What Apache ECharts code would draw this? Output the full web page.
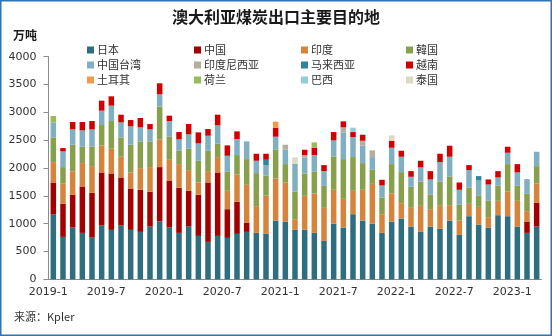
<!DOCTYPE html>
<html>
<head>
<meta charset="utf-8">
<script src="https://cdn.jsdelivr.net/npm/echarts@6/dist/echarts.min.js"></script>
<style>
html,body{margin:0;padding:0;background:#fff;}
#c{width:552px;height:336px;}
</style>
</head>
<body>
<div id="c"></div>
<script>
const categories = [
 '2019-1','2019-2','2019-3','2019-4','2019-5','2019-6','2019-7','2019-8','2019-9','2019-10','2019-11','2019-12',
 '2020-1','2020-2','2020-3','2020-4','2020-5','2020-6','2020-7','2020-8','2020-9','2020-10','2020-11','2020-12',
 '2021-1','2021-2','2021-3','2021-4','2021-5','2021-6','2021-7','2021-8','2021-9','2021-10','2021-11','2021-12',
 '2022-1','2022-2','2022-3','2022-4','2022-5','2022-6','2022-7','2022-8','2022-9','2022-10','2022-11','2022-12',
 '2023-1','2023-2','2023-3'
];
const japan = [1170,762,930,834,750,966,888,966,888,852,948,1038,930,834,948,780,672,780,744,816,852,834,816,1056,1038,894,894,834,690,1002,930,1170,1056,1002,834,1038,1092,948,852,948,906,1056,798,1134,984,930,1152,1134,948,834,948];
const china = [570,594,588,834,804,954,1014,864,744,756,624,978,846,810,642,738,1068,1140,516,576,168,0,0,0,0,0,0,0,0,0,0,0,0,0,0,0,0,0,0,0,0,0,0,0,0,0,0,0,0,204,426];
const india = [366,366,420,420,480,486,444,372,288,390,444,498,372,426,372,222,204,276,330,492,678,480,690,756,702,186,606,708,594,606,516,420,552,726,336,504,276,336,468,312,414,276,258,222,318,186,258,444,462,186,348];
const korea = [444,294,480,294,348,366,498,348,498,480,462,588,420,240,384,390,366,240,348,348,462,594,360,516,330,498,402,396,396,600,714,606,480,240,300,528,558,378,438,258,438,516,282,294,198,294,270,492,270,312,312];
const taiwan = [270,282,276,294,312,258,276,270,330,252,216,222,276,204,258,312,270,330,282,288,318,222,186,234,258,498,282,294,264,288,480,360,318,228,216,294,276,180,252,276,348,354,270,312,276,294,150,204,240,264,258];
const indonesia = [0,0,0,0,0,0,0,0,0,0,0,0,0,0,0,0,0,0,0,0,0,0,0,0,90,0,48,0,0,0,90,0,84,120,0,0,0,0,0,0,0,0,0,0,0,0,0,0,0,0,0];
const malaysia = [0,0,0,0,0,0,0,0,0,0,0,0,0,0,0,0,0,0,0,0,0,0,96,0,0,0,0,0,0,0,0,0,0,0,0,0,0,0,0,0,0,0,0,0,78,0,0,0,0,0,0];
const vietnam = [0,60,132,150,150,180,168,138,114,168,96,198,96,132,186,198,120,192,186,138,0,126,108,162,0,0,96,132,108,150,108,90,108,0,102,126,108,102,120,150,150,198,132,90,0,90,114,108,150,0,0];
const turkey = [0,0,0,0,0,0,0,0,0,0,0,0,0,0,0,0,0,0,0,0,0,0,0,108,0,0,0,0,0,0,0,0,0,0,0,0,0,0,0,0,0,0,0,0,0,0,0,0,0,0,0];
const netherlands = [114,0,0,0,0,0,0,0,0,0,0,0,0,0,0,0,0,0,0,0,0,0,0,0,0,0,0,96,0,0,0,0,0,0,0,0,0,0,0,0,0,0,0,0,0,0,0,0,0,0,0];
const brazil = [0,0,0,0,0,0,0,0,0,0,0,0,0,0,0,0,0,0,0,0,0,0,0,0,0,0,0,0,0,0,0,78,0,0,0,0,0,0,0,0,0,0,0,0,0,0,0,0,0,0,0];
const thailand = [0,0,0,0,0,0,0,0,0,0,0,0,0,0,0,0,0,0,0,0,0,0,0,0,0,114,0,0,0,0,0,0,0,0,0,96,0,0,0,0,0,0,0,0,0,0,0,0,0,0,0];
const yTicks = [0,500,1000,1500,2000,2500,3000,3500,4000];

const seriesDefs = [
 ['日本', japan, '#2E6E7E'],
 ['中国', china, '#A30000'],
 ['印度', india, '#D6843C'],
 ['韓国', korea, '#88A04C'],
 ['中国台湾', taiwan, '#7FAFC0'],
 ['印度尼西亚', indonesia, '#B5AE9E'],
 ['马来西亚', malaysia, '#31859C'],
 ['越南', vietnam, '#D00000'],
 ['土耳其', turkey, '#F79646'],
 ['荷兰', netherlands, '#9BBB59'],
 ['巴西', brazil, '#92CDDC'],
 ['泰国', thailand, '#DDD9C3']
];
const legendCols = [
 ['日本','中国台湾','土耳其'],
 ['中国','印度尼西亚','荷兰'],
 ['印度','马来西亚','巴西'],
 ['韓国','越南','泰国']
];
const legendLeft = [82, 189, 296, 401];

const FONT = 'Noto Sans CJK SC';
const chart = echarts.init(document.getElementById('c'));
chart.setOption({
 animation: false,
 backgroundColor: '#fff',
 title: {
  text: '澳大利亚煤炭出口主要目的地',
  left: 'center', top: 4,
  textStyle: {fontSize: 16, fontWeight: 'bold', color: '#1a1a1a', fontFamily: FONT}
 },
 legend: legendCols.map((col, k) => ({
  orient: 'vertical', left: legendLeft[k], top: 39,
  data: col, icon: 'rect', itemWidth: 7, itemHeight: 7, itemGap: 3,
  selectedMode: false,
  textStyle: {fontSize: 11, color: '#333', fontFamily: FONT, lineHeight: 12, padding: [0,0,0,-2]}
 })),
 grid: {left: 48.5, right: 10.5, top: 56.7, bottom: 56.7},
 xAxis: {
  type: 'category', data: categories, boundaryGap: true,
  axisLine: {lineStyle: {color: '#8c8c8c'}},
  axisTick: {interval: 5, length: 5, lineStyle: {color: '#8c8c8c'}},
  axisLabel: {interval: 5, fontSize: 11, color: '#333', margin: 7, fontFamily: 'DejaVu Sans', padding: [0, 10, 0, 0]}
 },
 yAxis: {
  type: 'value', min: yTicks[0], max: yTicks[yTicks.length-1], interval: 500,
  splitLine: {show: false},
  axisLine: {show: true, lineStyle: {color: '#8c8c8c'}},
  axisTick: {show: true, length: 5, lineStyle: {color: '#8c8c8c'}},
  axisLabel: {fontSize: 11, color: '#333', margin: 12, fontFamily: 'DejaVu Sans', formatter: v => String(v)}
 },
 graphic: [
  {type: 'text', left: 13, top: 29, style: {text: '万吨', fontSize: 12, fontWeight: 'bold', fill: '#1a1a1a', fontFamily: FONT}},
  {type: 'text', left: 14, top: 311, style: {text: '来源：Kpler', fontSize: 11, fill: '#333', fontFamily: FONT}},
  {type: 'rect', shape: {x: 0.75, y: 0.75, width: 550.5, height: 334.5}, style: {fill: 'none', stroke: '#2E75B6', lineWidth: 1.5}, silent: true}
 ],
 series: seriesDefs.map(([name, data, color]) => ({
  name, type: 'bar', stack: 'total', data, barWidth: 5.5,
  itemStyle: {color}, emphasis: {disabled: true}
 }))
});
</script>
</body>
</html>
